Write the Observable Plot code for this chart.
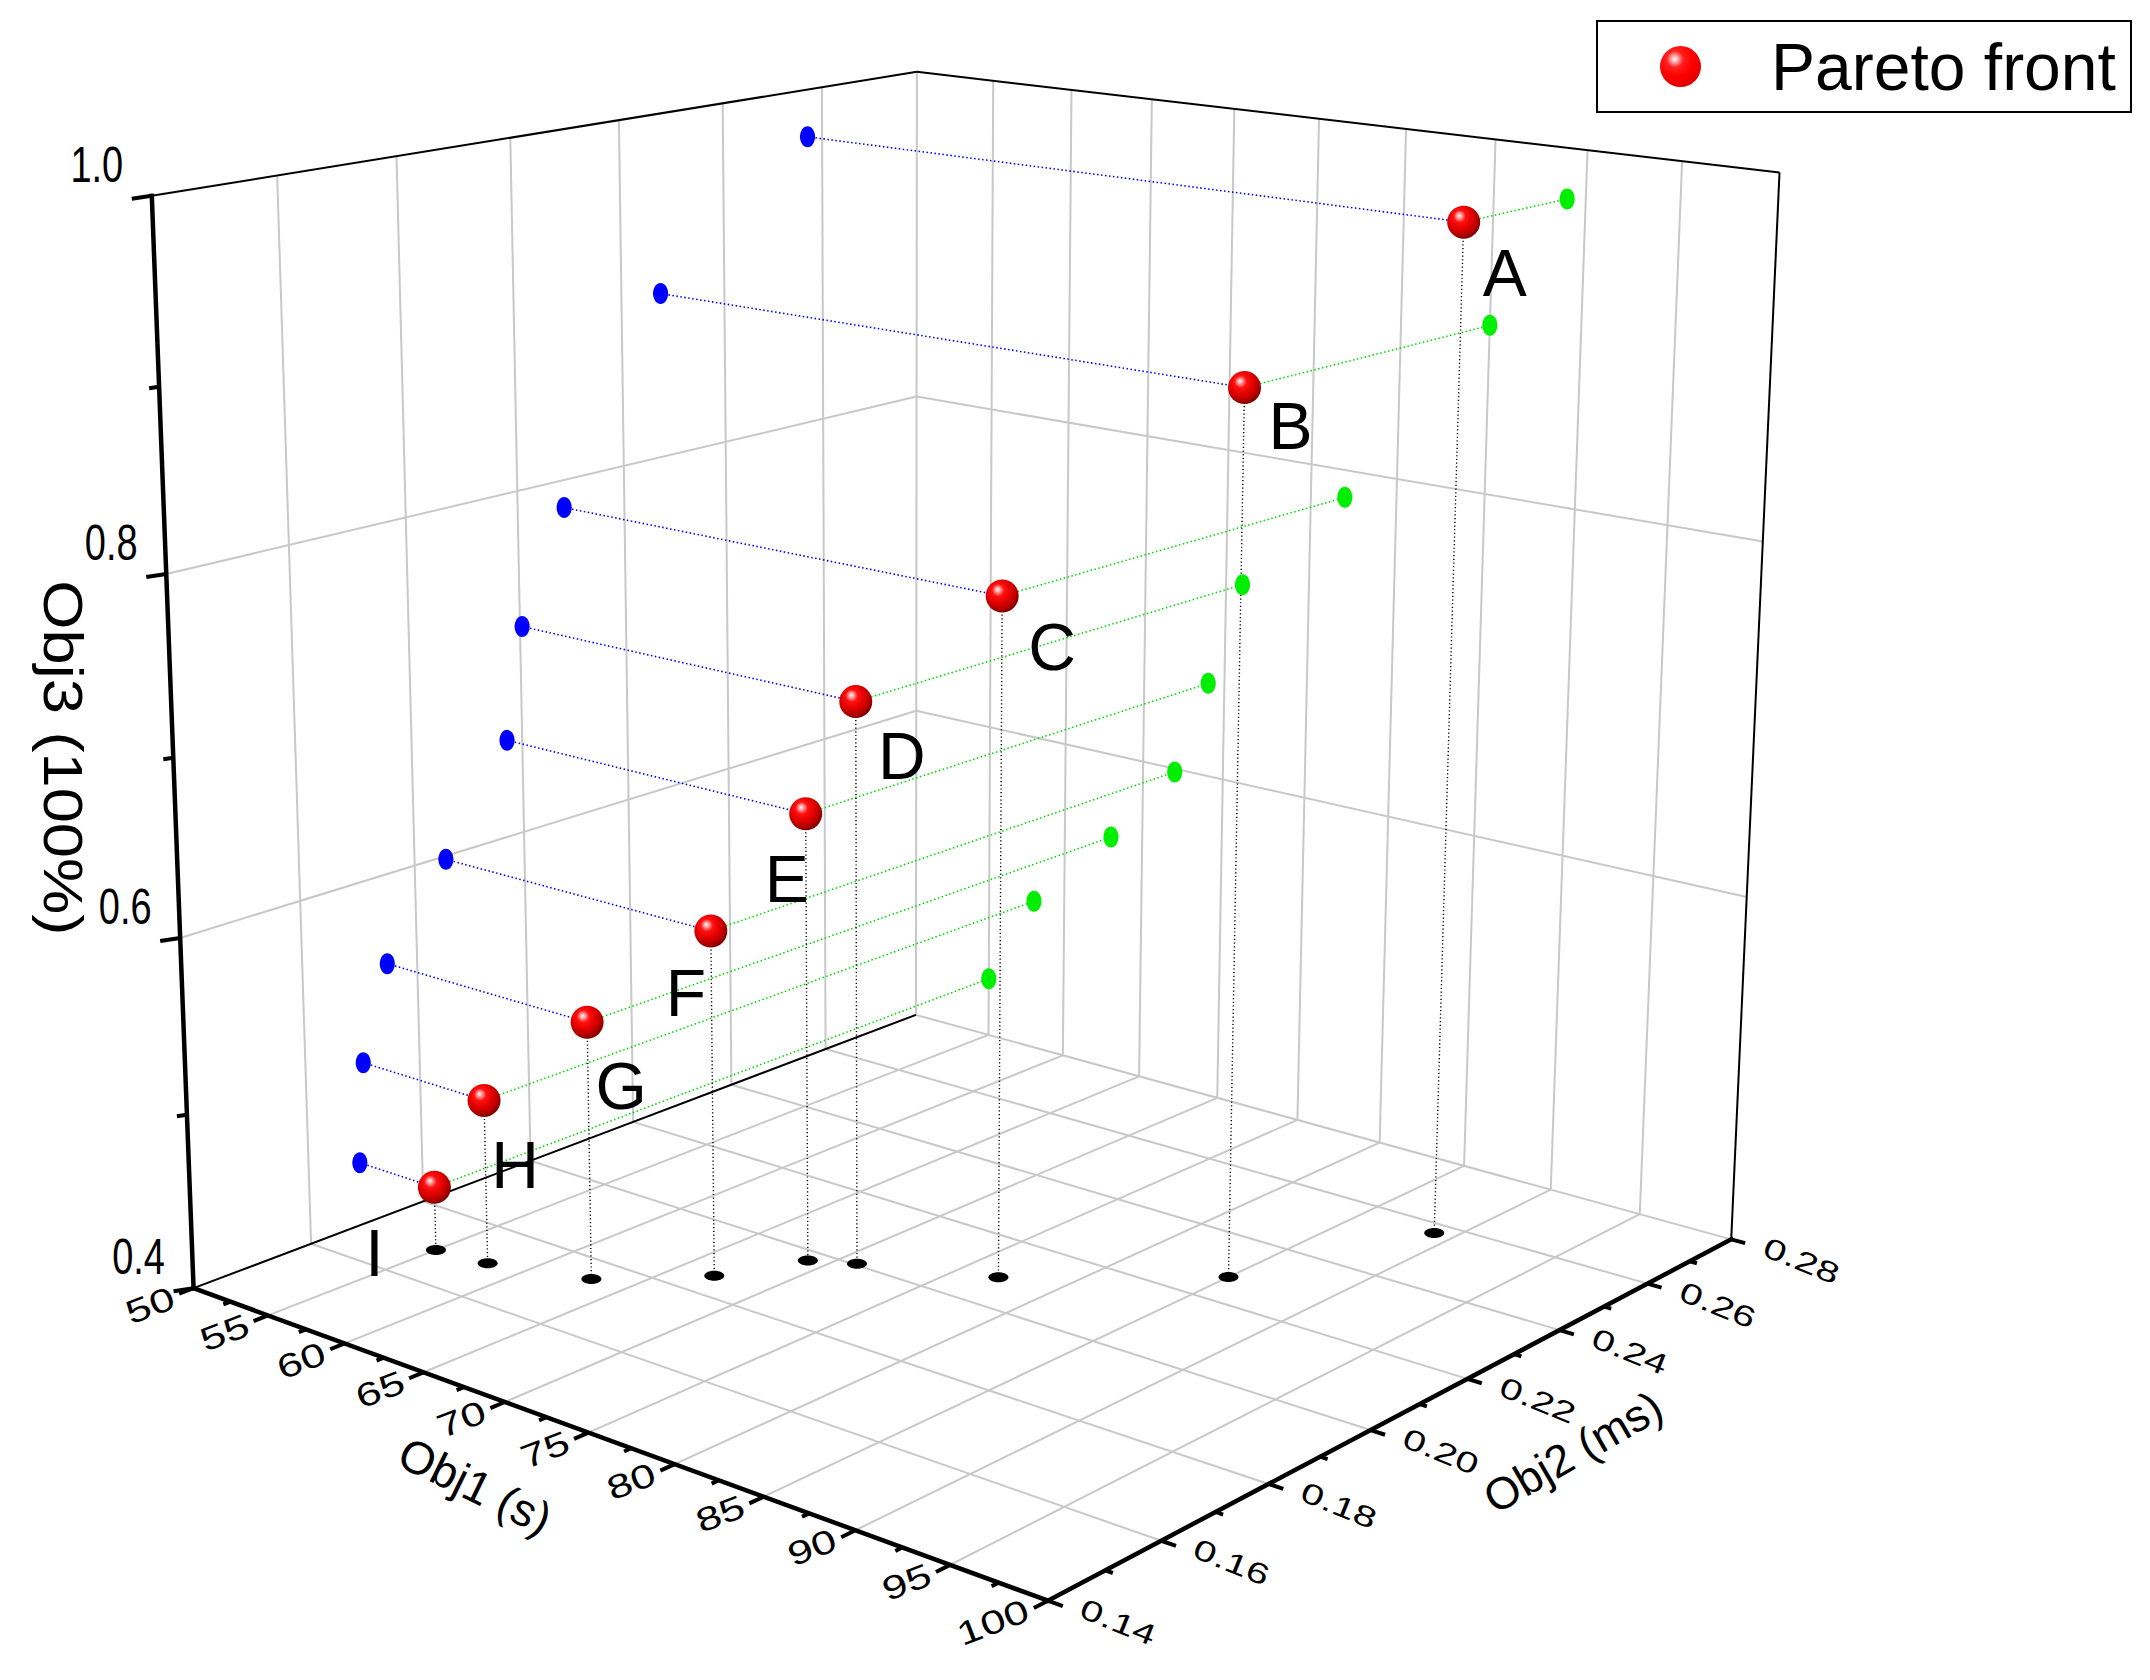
<!DOCTYPE html>
<html><head><meta charset="utf-8">
<script src="https://cdn.jsdelivr.net/npm/d3@7"></script>
<script src="https://cdn.jsdelivr.net/npm/@observablehq/plot@0.6"></script>
<style>
body{margin:0;background:#fff;font-family:"Liberation Sans",Arial,sans-serif}
#wrap{position:relative;width:2150px;height:1680px;overflow:hidden}
#legend{position:absolute;left:1596px;top:20px;width:536px;height:93px;border:2px solid #000;box-sizing:border-box;background:#fff}
#legend .ball{position:absolute;left:62px;top:24px;width:41px;height:41px;border-radius:50%;
 background:radial-gradient(circle at 36% 32%,#fff 0%,#ffb0b0 8%,#ff2020 22%,#ff0000 45%,#e00000 75%,#b00000 100%)}
#legend span{position:absolute;left:173px;top:12px;font-size:66px;line-height:66px;color:#000;white-space:nowrap}
</style></head><body><div id="wrap"><div id="legend"><div class="ball"></div><span>Pareto front</span></div></div>
<script>
// ---------- data ----------
const pointLabels = ["A","B","C","D","E","F","G","H","I"];
const obj1 = [89, 85, 77, 71, 69, 67, 63, 58, 55];                                        // Obj1 (s)
const obj2 = [0.2570, 0.2275, 0.2086, 0.2004, 0.1972, 0.1856, 0.1747, 0.1700, 0.1689];     // Obj2 (ms)
const obj3 = [0.972, 0.896, 0.784, 0.721, 0.657, 0.598, 0.548, 0.495, 0.437];            // Obj3 (100%)
const obj1Ticks = [50,55,60,65,70,75,80,85,90,95,100];
const obj2Ticks = [0.14,0.16,0.18,0.20,0.22,0.24,0.26,0.28];
const obj3Ticks = [0.4,0.6,0.8,1.0];

// ---------- layout: perspective camera (3x4 projective matrix on normalised box coords) ----------
const camera = [0.7070639, 0.8740715, -0.05025728, 0.1930715,
                0.08753268, -0.1052257, -1.103284, 1.287677,
                -0.1405864, 0.1657178, -0.05607796];
const labelDX = [41,46,50,46,-19,-25,34,31,-60];   // letter offsets from its ball (px)
const labelDY = [53,40,53,56,67,64,66,66,68];

const X0=obj1Ticks[0], X1=obj1Ticks[obj1Ticks.length-1];
const Y0=obj2Ticks[0], Y1=obj2Ticks[obj2Ticks.length-1];
const Z0=obj3Ticks[0], Z1=obj3Ticks[obj3Ticks.length-1];
function P(a,b,c){
  const m=camera, t1=(a-X0)/(X1-X0), t2=(b-Y0)/(Y1-Y0), t3=(c-Z0)/(Z1-Z0);
  const w=m[8]*t1+m[9]*t2+m[10]*t3+1;
  return [(m[0]*t1+m[1]*t2+m[2]*t3+m[3])/w*1000,(m[4]*t1+m[5]*t2+m[6]*t3+m[7])/w*1000];
}
const seg = (a,b) => { const p=P(...a), q=P(...b); return {x1:p[0],y1:p[1],x2:q[0],y2:q[1]}; };
const o1=obj1Ticks, o2=obj2Ticks, o3=obj3Ticks;
const g1=o1.slice(1,-1), g2=o2.slice(1,-1), g3=o3.slice(1,-1);
const grid=[];
g1.forEach(x=>grid.push(seg([x,Y0,Z0],[x,Y1,Z0])));
g2.forEach(y=>grid.push(seg([X0,y,Z0],[X1,y,Z0])));
g2.forEach(y=>grid.push(seg([X0,y,Z0],[X0,y,Z1])));
g3.forEach(z=>grid.push(seg([X0,Y0,z],[X0,Y1,z])));
g1.forEach(x=>grid.push(seg([x,Y1,Z0],[x,Y1,Z1])));
g3.forEach(z=>grid.push(seg([X0,Y1,z],[X1,Y1,z])));
grid.push(seg([X0,Y1,Z0],[X0,Y1,Z1]));
grid.push(seg([X0,Y1,Z0],[X1,Y1,Z0]));
const edges=[seg([X0,Y0,Z0],[X0,Y1,Z0]),seg([X0,Y0,Z1],[X0,Y1,Z1]),seg([X0,Y1,Z1],[X1,Y1,Z1]),seg([X1,Y1,Z0],[X1,Y1,Z1])];
const axes=[seg([X0,Y0,Z0],[X1,Y0,Z0]),seg([X1,Y0,Z0],[X1,Y1,Z0]),seg([X0,Y0,Z0],[X0,Y0,Z1])];
const ticks=[];
for(let k=0;k<o1.length;k++){ ticks.push(seg([o1[k],Y0,Z0],[o1[k],Y0-0.0024,Z0])); if(k<o1.length-1){const h=(o1[k]+o1[k+1])/2; ticks.push(seg([h,Y0,Z0],[h,Y0-0.0012,Z0]));} }
for(let k=0;k<o2.length;k++){ ticks.push(seg([X1,o2[k],Z0],[X1+0.75,o2[k],Z0])); if(k<o2.length-1){const h=(o2[k]+o2[k+1])/2; ticks.push(seg([X1,h,Z0],[X1+0.38,h,Z0]));} }
for(let k=0;k<o3.length;k++){ const p=P(X0,Y0,o3[k]); ticks.push({x1:p[0],y1:p[1],x2:p[0]-20,y2:p[1]+3}); if(k<o3.length-1){const q=P(X0,Y0,(o3[k]+o3[k+1])/2); ticks.push({x1:q[0],y1:q[1],x2:q[0]-10,y2:q[1]+1.5});} }

const pts = pointLabels.map((L,i)=>{ const r=P(obj1[i],obj2[i],obj3[i]), b=P(X0,obj2[i],obj3[i]), g=P(obj1[i],Y1,obj3[i]), f=P(obj1[i],obj2[i],Z0);
 return {L, rx:r[0], ry:r[1], bx:b[0], by:b[1], gx:g[0], gy:g[1], fx:f[0], fy:f[1], lx:r[0]+labelDX[i], ly:r[1]+labelDY[i]}; });
const t1L = o1.map(v=>{const p=P(v,Y0,Z0); return {x:p[0],y:p[1],t:String(v)};});
const t2L = o2.map(v=>{const p=P(X1,v,Z0); return {x:p[0],y:p[1],t:v.toFixed(2)};});
const t3L = o3.map(v=>{const p=P(X0,Y0,v); return {x:p[0],y:p[1],t:v.toFixed(1)};});
const titles = [
 {p:P(X0,Y0,0.7), t:"Obj3 (100%)"},
 {p:P(70,Y0,Z0), t:"Obj1 (s)"},
 {p:P(X1,0.21,Z0), t:"Obj2 (ms)"}
];

function ellipse(kx,ky){ return {draw(ctx,size){ const r=Math.sqrt(size/Math.PI), a=r*kx, b=r*ky, k=0.5522847;
 ctx.moveTo(a,0); ctx.bezierCurveTo(a,b*k,a*k,b,0,b); ctx.bezierCurveTo(-a*k,b,-a,b*k,-a,0);
 ctx.bezierCurveTo(-a,-b*k,-a*k,-b,0,-b); ctx.bezierCurveTo(a*k,-b,a,-b*k,a,0); ctx.closePath(); }}; }
const FONT="Liberation Sans, Arial, sans-serif";
const W=2150,H=1680;
const svg = Plot.plot({
 width:W, height:H, margin:0, style:{fontFamily:FONT, background:"#fff"},
 x:{domain:[0,W], range:[0,W], axis:null}, y:{domain:[0,H], range:[0,H], axis:null},
 marks:[
  Plot.link(grid,{x1:"x1",y1:"y1",x2:"x2",y2:"y2",stroke:"#c8c8c8",strokeWidth:2}),
  Plot.link(edges,{x1:"x1",y1:"y1",x2:"x2",y2:"y2",stroke:"#000",strokeWidth:2}),
  Plot.link(pts,{x1:"bx",y1:"by",x2:"rx",y2:"ry",stroke:"#0000ff",strokeWidth:1.6,strokeDasharray:"1.5,2.5"}),
  Plot.link(pts,{x1:"rx",y1:"ry",x2:"gx",y2:"gy",stroke:"#00e000",strokeWidth:1.6,strokeDasharray:"1.5,2.5"}),
  Plot.link(pts,{x1:"rx",y1:"ry",x2:"fx",y2:"fy",stroke:"#000",strokeWidth:1.4,strokeDasharray:"1.2,2.5"}),
  Plot.link(axes,{x1:"x1",y1:"y1",x2:"x2",y2:"y2",stroke:"#000",strokeWidth:4.5,strokeLinecap:"square"}),
  Plot.link(ticks,{x1:"x1",y1:"y1",x2:"x2",y2:"y2",stroke:"#000",strokeWidth:4}),
  Plot.dot(pts,{x:"fx",y:"fy",r:10,symbol:ellipse(1,0.5),fill:"#000"}),
  Plot.dot(pts,{x:"bx",y:"by",r:10.5,symbol:ellipse(0.72,1),fill:"#0000ff"}),
  Plot.dot(pts,{x:"gx",y:"gy",r:10.5,symbol:ellipse(0.72,1),fill:"#00ee00"}),
  Plot.dot(pts,{x:"rx",y:"ry",r:16.5,fill:"url(#ball)"}),
  Plot.text(pts,{x:"lx",y:"ly",text:"L",fontSize:66,fill:"#000"}),
  Plot.text(t1L,{x:"x",y:"y",text:"t",dx:-20,dy:9,textAnchor:"end",rotate:-21,fontSize:33,fill:"#000"}),
  Plot.text(t2L,{x:"x",y:"y",text:"t",dx:70,dy:22,rotate:22,fontSize:29,fill:"#000"}),
  Plot.text(t3L,{x:"x",y:"y",text:"t",dx:-55,dy:-30,fontSize:50,fill:"#000"}),
  Plot.text(titles.slice(0,1),{x:d=>d.p[0],y:d=>d.p[1],text:"t",dx:-112,dy:0,rotate:90,fontSize:55,fill:"#000"}),
  Plot.text(titles.slice(1,2),{x:d=>d.p[0],y:d=>d.p[1],text:"t",dx:-30,dy:85,rotate:26,fontSize:46,fill:"#000"}),
  Plot.text(titles.slice(2,3),{x:d=>d.p[0],y:d=>d.p[1],text:"t",dx:154,dy:49,rotate:-30,fontSize:45,fill:"#000"})
 ]
});
const defs = d3.select(svg).insert("defs",":first-child");
const gr = defs.append("radialGradient").attr("id","ball").attr("cx","0.42").attr("cy","0.38").attr("r","0.62").attr("fx","0.36").attr("fy","0.3");
[["0","#ffffff"],["0.1","#ffb0b0"],["0.3","#ff1010"],["0.6","#e00000"],["0.85","#b00000"],["1","#800000"]].forEach(([o,c])=>gr.append("stop").attr("offset",o).attr("stop-color",c));
// perspective-like stretching of tick labels along their baseline
const stretch = {"33":1.35, "29":1.4, "50":0.76, "55":1.15};
svg.querySelectorAll("g[font-size]").forEach(g=>{
  const s = stretch[String(parseFloat(g.getAttribute("font-size")))];
  if (!s) return;
  g.querySelectorAll("text").forEach(t=>{
    let tr = t.getAttribute("transform");
    if (!tr) { const x=t.getAttribute("x")||0, y=t.getAttribute("y")||0; tr=`translate(${x},${y})`; t.removeAttribute("x"); t.removeAttribute("y"); }
    t.setAttribute("transform", tr + ` scale(${s},1)`);
  });
});
document.getElementById("wrap").prepend(svg);
</script></body></html>
